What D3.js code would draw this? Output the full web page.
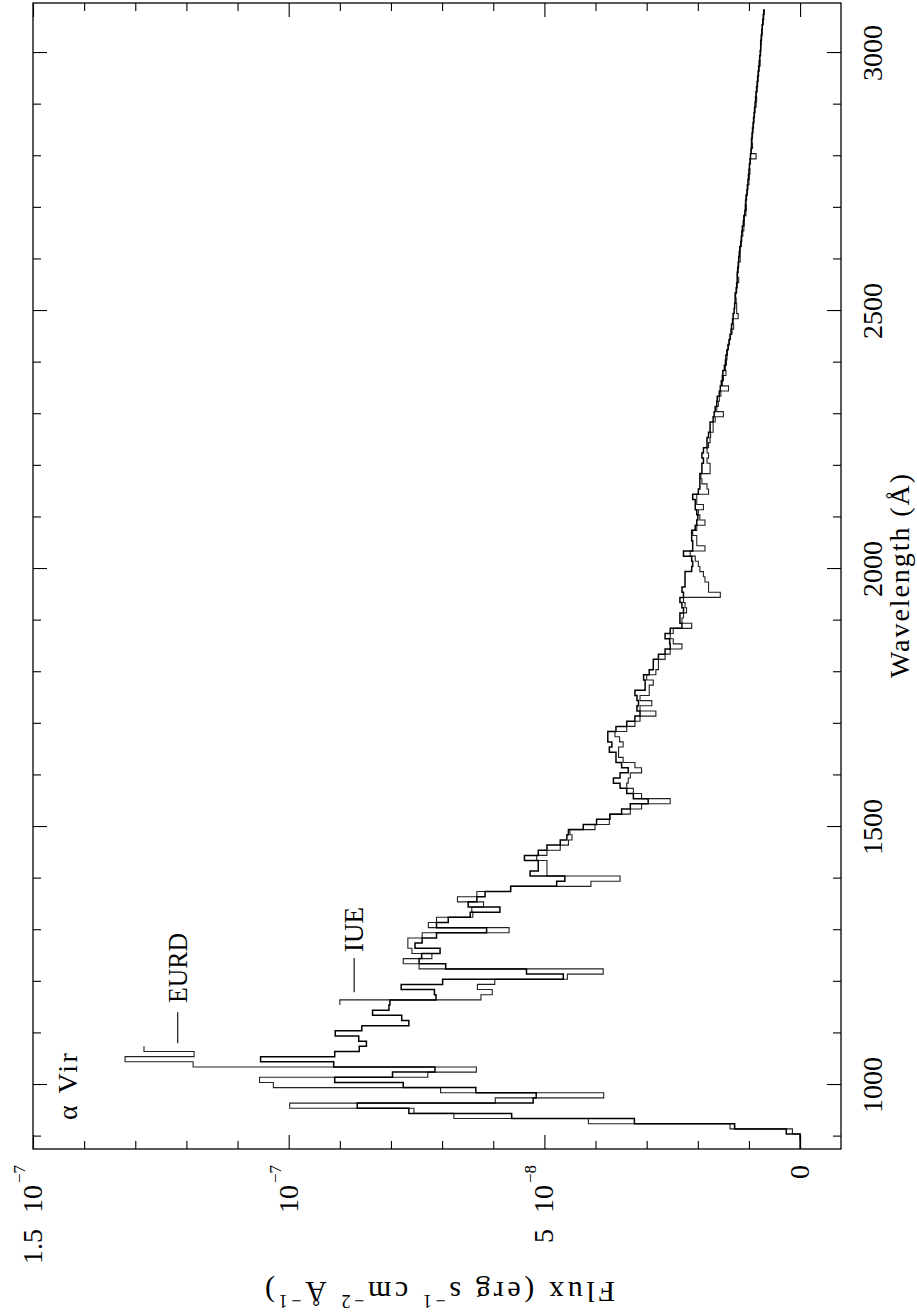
<!DOCTYPE html>
<html>
<head>
<meta charset="utf-8">
<script src="https://cdn.jsdelivr.net/npm/d3@7.9.0/dist/d3.min.js"></script>
<style>
  html, body { margin: 0; padding: 0; background: #fff; }
  svg { display: block; }
  text { font-family: "Liberation Serif", "DejaVu Serif", serif; fill: #000; }
</style>
</head>
<body>
<svg id="chart" width="917" height="1314"></svg>
<script>
// alpha Vir UV spectrum, 10 A bins, flux in units of 1e-8 erg s-1 cm-2 A-1
const binWidth = 10;

// model spectrum (thick line), bins centred from 880 A
const modelStart = 880;
const modelFlux = [
  0, 0, 0, 0.27, 1.28, 3.24, 5.64, 7.65, 8.66, 5.22,
  5.16, 6.34, 7.76, 9.10, 7.97, 7.14, 9.12, 10.55, 9.10, 8.62,
  8.48, 8.63, 9.09, 8.57, 7.65, 7.79, 8.36, 8.04,
  // 1160 - 1470
  8.02, 7.12, 7.15, 7.80, 6.99, 4.63, 5.35, 6.93, 7.45, 7.40,
  7.04, 7.53, 7.39, 7.11, 6.13, 7.11, 6.88, 6.45, 5.87, 6.49,
  6.32, 6.16, 5.66, 4.76, 4.60, 5.28, 5.12, 5.12, 5.39, 5.12,
  4.95, 4.69,
  // 1480 - 1860
  4.56, 4.53, 4.24, 3.98, 3.72, 3.49, 3.32, 2.97, 3.26, 3.39,
  3.52, 3.65, 3.52, 3.36, 3.49, 3.60, 3.60, 3.73, 3.68, 3.76,
  3.76, 3.60, 3.39, 3.23, 3.13, 3.19, 3.16, 3.19, 3.23, 3.03,
  3.03, 3.06, 2.95, 2.87, 2.87, 2.77, 2.64, 2.54, 2.55,
  // 1870 - 2290
  2.64, 2.54, 2.31, 2.35, 2.35, 2.28, 2.31, 2.35, 2.28, 2.31,
  2.25, 2.25, 2.25, 2.12, 2.10, 2.12, 2.28, 2.10, 2.10, 2.12,
  2.12, 2.05, 2.02, 2.00, 2.02, 2.05, 2.05, 2.10, 1.99, 1.96,
  1.96, 1.96, 1.92, 1.92, 1.89, 1.92, 1.89, 1.82, 1.82, 1.79,
  1.76, 1.76, 1.70,
  // 2300 - 3080
  1.68, 1.66, 1.63, 1.62, 1.58, 1.56, 1.54, 1.52, 1.51, 1.48,
  1.46, 1.45, 1.43, 1.41, 1.39, 1.37, 1.35, 1.34, 1.32, 1.31,
  1.29, 1.28, 1.27, 1.27, 1.25, 1.24, 1.23, 1.23, 1.22, 1.21,
  1.20, 1.19, 1.18, 1.16, 1.15, 1.14, 1.13, 1.11, 1.10, 1.08,
  1.07, 1.06, 1.05, 1.04, 1.03, 1.02, 1.01, 1.00, 0.99, 0.98,
  0.97, 0.96, 0.95, 0.95, 0.94, 0.93, 0.92, 0.91, 0.90, 0.89,
  0.88, 0.87, 0.86, 0.85, 0.84, 0.83, 0.82, 0.81, 0.80, 0.79,
  0.78, 0.77, 0.77, 0.76, 0.75, 0.74, 0.73, 0.72, 0.71
];

// EURD data (thin line)
const eurdStart = 900;
const eurdFlux = [
  0, 0.15, 1.37, 4.14, 6.77, 7.55, 9.98, 5.96, 3.84, 7.03,
  10.30, 10.57, 7.28, 6.33, 11.87, 13.20, 11.85, 12.83
];

// IUE data (thin line)
const iueStart = 1160;
const iueFlux = [
  9.00, 6.24, 6.02, 6.31, 5.97, 4.55, 3.85, 7.45, 7.76, 7.20,
  7.59, 7.67, 7.67, 7.39, 5.69, 7.27, 7.11, 6.40, 6.42, 6.19,
  6.70, 6.32, 5.66, 4.09, 3.52, 4.95, 4.95, 4.95, 5.15, 4.95,
  4.69, 4.53,
  4.46, 4.50, 4.01, 3.73, 3.72, 3.32, 3.10, 2.54, 3.10, 3.26,
  3.39, 3.36, 3.32, 3.10, 3.23, 3.46, 3.55, 3.55, 3.46, 3.53,
  3.62, 3.39, 3.23, 3.13, 2.82, 3.13, 2.90, 3.13, 2.95, 2.95,
  2.87, 3.00, 2.82, 2.77, 2.77, 2.64, 2.54, 2.31, 2.48,
  2.54, 2.48, 2.12, 2.31, 2.28, 2.22, 2.25, 2.28, 1.56, 1.79,
  1.79, 1.86, 1.89, 1.96, 1.99, 2.05, 2.15, 1.86, 2.02, 2.02,
  2.10, 2.02, 1.86, 1.96, 1.99, 1.89, 2.02, 2.02, 1.79, 1.82,
  1.92, 1.94, 1.76, 1.76, 1.82, 1.79, 1.82, 1.79, 1.76, 1.75,
  1.70, 1.70, 1.66,
  1.50, 1.63, 1.60, 1.58, 1.55, 1.40, 1.52, 1.50, 1.45, 1.46,
  1.44, 1.43, 1.42, 1.40, 1.38, 1.36, 1.33, 1.30, 1.31, 1.21,
  1.24, 1.24, 1.25, 1.26, 1.24, 1.23, 1.20, 1.22, 1.21, 1.20,
  1.17, 1.17, 1.17, 1.15, 1.14, 1.12, 1.10, 1.09, 1.09, 1.06,
  1.05, 1.07, 1.06, 1.03, 1.02, 1.00, 0.99, 0.98, 0.99, 0.97,
  0.86, 0.95, 0.93, 0.94, 0.93, 0.92, 0.91, 0.90, 0.89, 0.88,
  0.86, 0.85, 0.86, 0.84, 0.83, 0.82, 0.81, 0.80, 0.78, 0.79,
  0.77, 0.77, 0.76, 0.75, 0.74, 0.74, 0.72, 0.71, 0.70
];

// axes
const waveDomain = [876, 3097];
const fluxDomain = [-0.8, 15];
const waveMajor = [1000, 1500, 2000, 2500, 3000];
const waveMinor = [900, 1100, 1200, 1300, 1400, 1600, 1700, 1800, 1900,
                   2100, 2200, 2300, 2400, 2600, 2700, 2800, 2900];
const fluxMajor = [0, 5, 10, 15];
const fluxMinor = [1, 2, 3, 4, 6, 7, 8, 9, 11, 12, 13, 14];
const fluxTickText = ["0", "5", "", "1.5"];
const fluxTickExp = ["", "\u22128", "\u22127", "\u22127"];

// The plot is drawn landscape and turned a quarter turn to the left,
// like the printed page.
const svg = d3.select("#chart");
const pageW = 1314, pageH = 917;
const margin = { top: 33, right: 3, bottom: 76, left: 165 };

const g = svg.append("g")
    .attr("transform", `translate(0,${pageW}) rotate(-90)`);

const x = d3.scaleLinear().domain(waveDomain)
    .range([margin.left, pageW - margin.right]);
const y = d3.scaleLinear().domain(fluxDomain)
    .range([pageH - margin.bottom, margin.top]);

const [x0, x1] = x.range();
const [y0, y1] = y.range();

g.append("clipPath").attr("id", "frame-clip")
  .append("rect")
    .attr("x", x0).attr("y", y1)
    .attr("width", x1 - x0).attr("height", y0 - y1);

// histogram outline: each bin gives a flat top, the line joins them
function steps(start, values) {
    return values.flatMap((f, i) => {
        const c = start + i * binWidth;
        return [[c - binWidth / 2, f], [c + binWidth / 2, f]];
    });
}
const line = d3.line().x(d => x(d[0])).y(d => y(d[1]));

const plot = g.append("g").attr("clip-path", "url(#frame-clip)");

plot.append("path")
    .attr("d", line(steps(eurdStart, eurdFlux)))
    .attr("fill", "none").attr("stroke", "#222").attr("stroke-width", 1.1);
plot.append("path")
    .attr("d", line(steps(iueStart, iueFlux)))
    .attr("fill", "none").attr("stroke", "#222").attr("stroke-width", 1.1);
plot.append("path")
    .attr("d", line(steps(modelStart, modelFlux)))
    .attr("fill", "none").attr("stroke", "#000").attr("stroke-width", 1.5);

// frame
g.append("rect")
    .attr("x", x0).attr("y", y1)
    .attr("width", x1 - x0).attr("height", y0 - y1)
    .attr("fill", "none").attr("stroke", "#000").attr("stroke-width", 1.3);

// inward ticks on all four sides
function ticks(axis, values, size, transform) {
    g.append("g")
        .attr("transform", transform)
        .call(axis.tickValues(values).tickSizeInner(-size).tickSizeOuter(0).tickFormat(""))
        .call(a => a.select(".domain").remove())
        .selectAll("line").attr("stroke", "#000").attr("stroke-width", 1.1);
}
ticks(d3.axisBottom(x), waveMajor, 14, `translate(0,${y0})`);
ticks(d3.axisBottom(x), waveMinor, 8, `translate(0,${y0})`);
ticks(d3.axisTop(x), waveMajor, 14, `translate(0,${y1})`);
ticks(d3.axisTop(x), waveMinor, 8, `translate(0,${y1})`);
ticks(d3.axisLeft(y), fluxMajor, 14, `translate(${x0},0)`);
ticks(d3.axisLeft(y), fluxMinor, 8, `translate(${x0},0)`);
ticks(d3.axisRight(y), fluxMajor, 14, `translate(${x1},0)`);
ticks(d3.axisRight(y), fluxMinor, 8, `translate(${x1},0)`);

// wavelength numbers
g.selectAll(".wlab")
  .data(waveMajor)
  .enter().append("text")
    .attr("class", "wlab")
    .attr("x", d => x(d))
    .attr("y", y0 + 41)
    .attr("text-anchor", "middle")
    .attr("font-size", 28)
    .text(d => d);

// flux numbers, written as "1.5 10^-7"
fluxMajor.forEach((f, i) => {
    const t = g.append("text")
        .attr("x", x0 - 16)
        .attr("y", y(f) + 9)
        .attr("text-anchor", "end")
        .attr("font-size", 28);
    if (fluxTickExp[i] === "") {
        t.text(fluxTickText[i]);
        return;
    }
    if (fluxTickText[i] !== "") {
        t.append("tspan").text(fluxTickText[i]);
        t.append("tspan").attr("dx", 16).text("10");
    } else {
        t.append("tspan").text("10");
    }
    t.append("tspan").attr("dy", -17).attr("dx", 2)
        .attr("font-size", 17).text(fluxTickExp[i]);
});

// axis titles
g.append("text")
    .attr("x", (x0 + x1) / 2)
    .attr("y", y0 + 68)
    .attr("text-anchor", "middle")
    .attr("font-size", 28)
    .attr("textLength", 204)
    .attr("lengthAdjust", "spacing")
    .text("Wavelength (\u00c5)");

const yt = g.append("text")
    .attr("transform", `translate(32,${(y0 + y1) / 2 + 3}) rotate(-90)`)
    .attr("text-anchor", "middle")
    .attr("font-size", 30)
    .attr("textLength", 350)
    .attr("lengthAdjust", "spacing");
yt.append("tspan").text("Flux (erg s");
yt.append("tspan").attr("dy", -13).attr("font-size", 18).text("\u22121");
yt.append("tspan").attr("dy", 13).text(" cm");
yt.append("tspan").attr("dy", -13).attr("font-size", 18).text("\u22122");
yt.append("tspan").attr("dy", 13).text(" \u00c5");
yt.append("tspan").attr("dy", -13).attr("font-size", 18).text("\u22121");
yt.append("tspan").attr("dy", 13).text(")");

// annotations
g.append("text")
    .attr("x", x(932)).attr("y", y(14.14))
    .attr("font-size", 28)
    .attr("textLength", 67)
    .attr("lengthAdjust", "spacing")
    .text("\u03b1 Vir");

g.append("line")
    .attr("x1", x(1081)).attr("x2", x(1141))
    .attr("y1", y(12.17)).attr("y2", y(12.17))
    .attr("stroke", "#000").attr("stroke-width", 1.1);
g.append("text")
    .attr("x", x(1159)).attr("y", y(11.99))
    .attr("font-size", 27)
    .attr("textLength", 70)
    .attr("lengthAdjust", "spacingAndGlyphs")
    .text("EURD");

g.append("line")
    .attr("x1", x(1180)).attr("x2", x(1246))
    .attr("y1", y(8.72)).attr("y2", y(8.72))
    .attr("stroke", "#000").attr("stroke-width", 1.1);
g.append("text")
    .attr("x", x(1258)).attr("y", y(8.55))
    .attr("font-size", 27)
    .text("IUE");
</script>
</body>
</html>
